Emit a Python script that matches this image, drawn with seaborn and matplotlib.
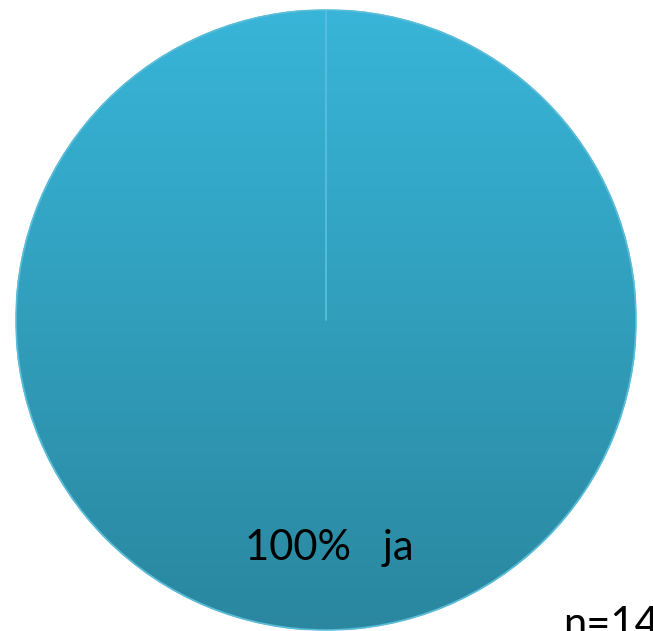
import numpy as np
import matplotlib
matplotlib.use("Agg")
import matplotlib.pyplot as plt
import seaborn as sns
from matplotlib.colors import LinearSegmentedColormap

labels = ["ja"]
percent = [100]
n_total = 14

sns.set_theme(style="white")
plt.rcParams['font.family'] = ['Lato', 'DejaVu Sans']

fig = plt.figure(figsize=(6.53, 6.31), dpi=100)
ax = fig.add_axes([16/653, 1/631, 620/653, 620/631])
ax.set_axis_off()

wedges, _ = ax.pie(percent, startangle=90, counterclock=False, radius=1.0,
                   colors=["#33a9cb"],
                   wedgeprops=dict(edgecolor="#5cbfdc", linewidth=1.2))
ax.set_xlim(-1.0, 1.0)
ax.set_ylim(-1.0, 1.0)
ax.set_aspect("equal")

# vertical gradient fill clipped to the pie
cmap = LinearSegmentedColormap.from_list("g", ["#2a879f", "#38b5d8"])
grad = np.linspace(0, 1, 256).reshape(-1, 1)
im = ax.imshow(grad, extent=[-1, 1, -1, 1], origin="lower", cmap=cmap,
               aspect="auto", zorder=wedges[0].get_zorder() + 0.1)
im.set_clip_path(wedges[0])
edge = matplotlib.patches.Wedge((0, 0), 1.0, 90, 450, facecolor="none",
                                edgecolor="#5bbcd8", linewidth=1.2, zorder=5)
ax.add_patch(edge)
ax.plot([0, 0], [0, 1], color="#5cc0dd", lw=1.2, zorder=6)

ax.text(0.01, -0.735, f"{percent[0]}%   {labels[0]}", ha="center", va="center",
        fontsize=30, color="black", zorder=7)

fig.text(563/653, 1 - 606/631, f"n={n_total}", ha="left", va="top",
         fontsize=30, color="black")

fig.savefig("out.png", dpi=100)
